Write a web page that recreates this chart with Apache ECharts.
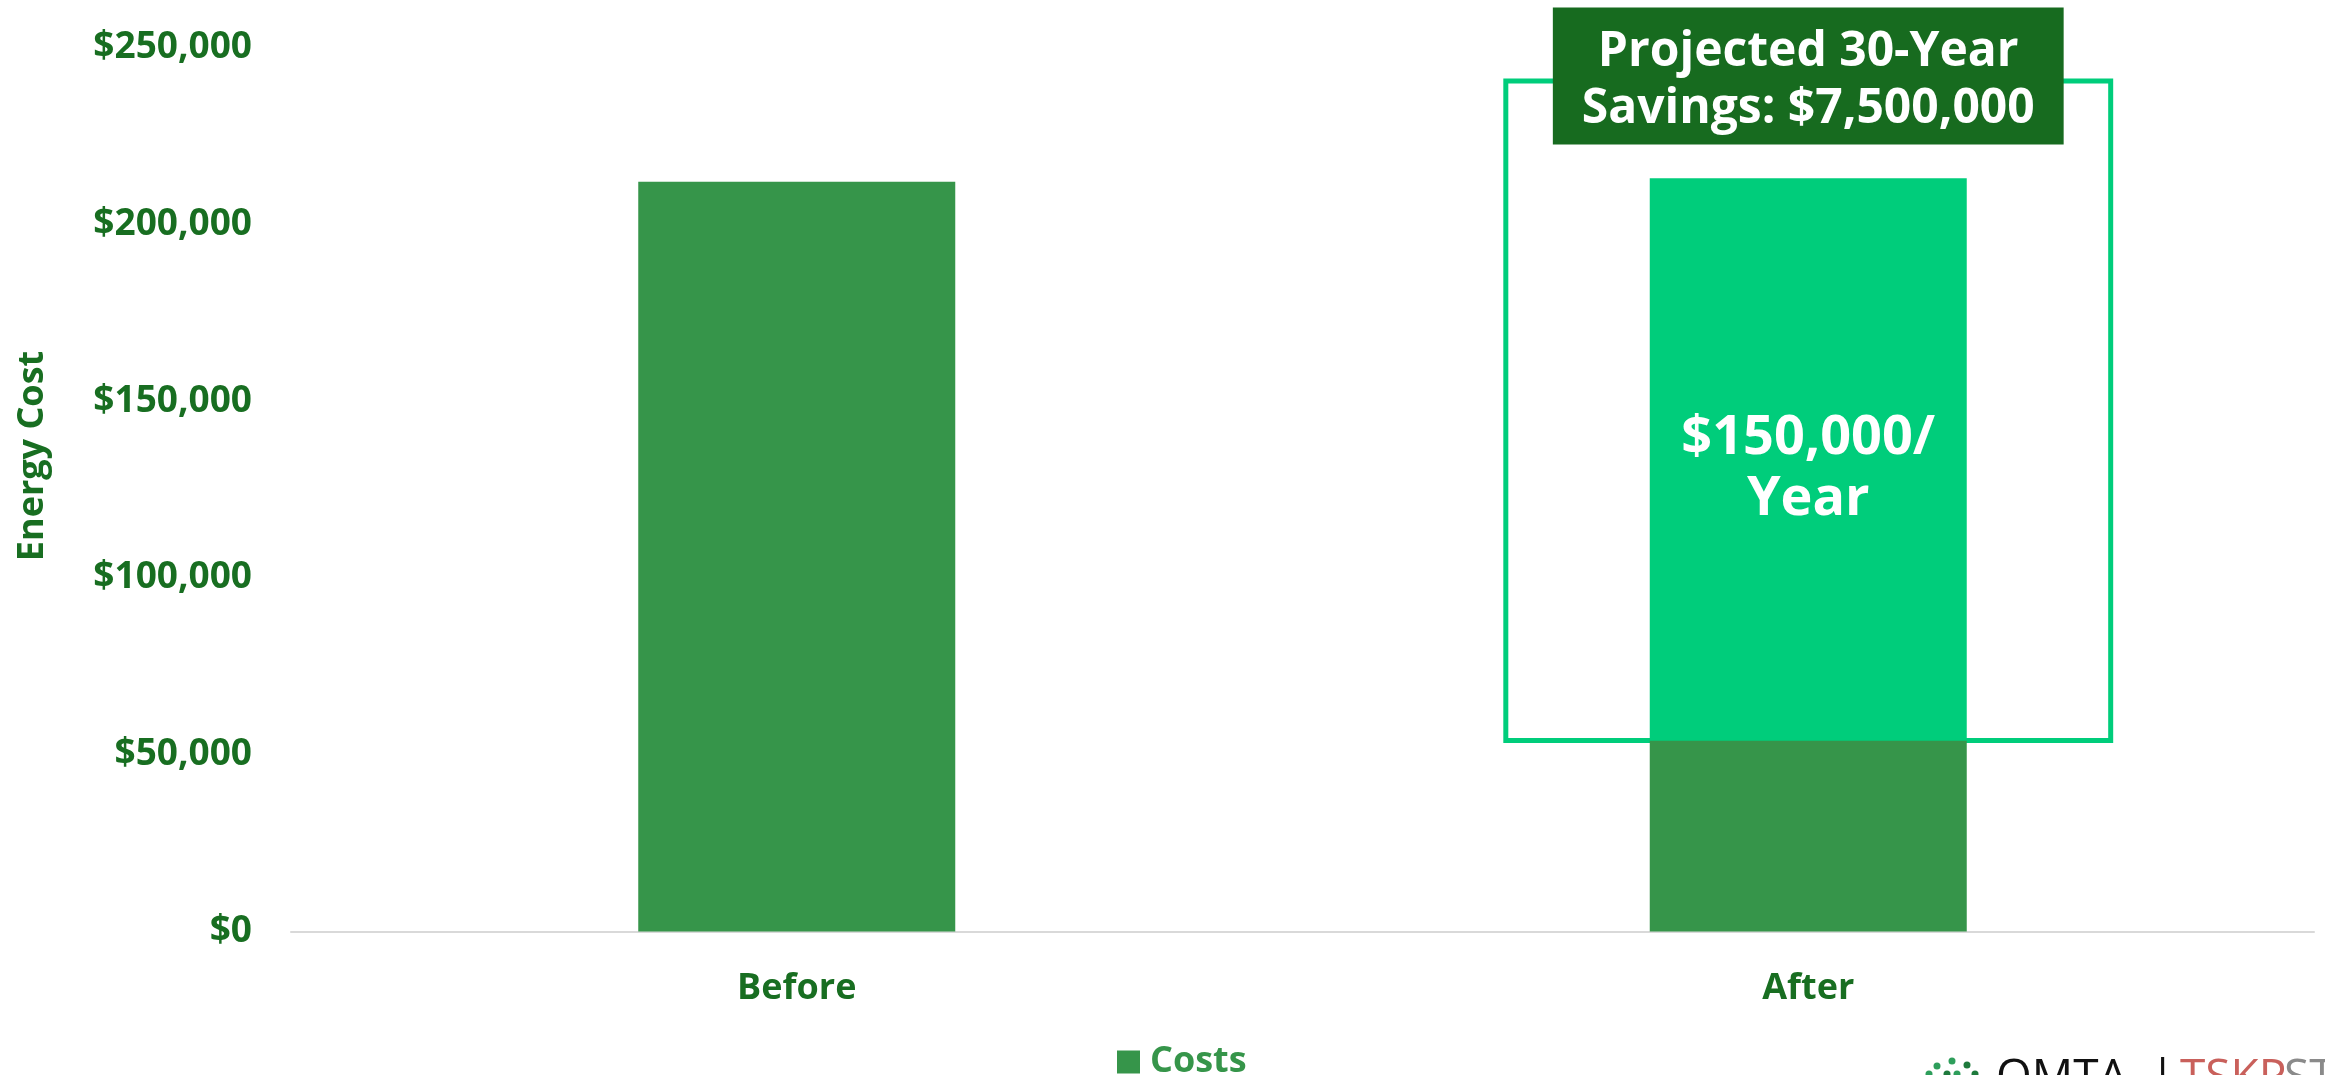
<!DOCTYPE html>
<html>
<head>
<meta charset="utf-8">
<script src="https://cdn.jsdelivr.net/npm/echarts@6/dist/echarts.min.js"></script>
<style>
html,body{margin:0;padding:0;background:#fff;}
#chart{width:2325px;height:1075px;}
</style>
</head>
<body>
<div id="chart"></div>
<script>
// ---- data ----
const categories = ['Before', 'After'];
const costs = [212000, 54000];          // dark green "Costs" bars
const savings = [null, 159000];         // bright green savings segment on "After"
const yMin = 0;
const yMax = 250000;
const yInterval = 50000;
const yAxisTitle = 'Energy Cost';
const savingsLabel = ['$150,000/', 'Year'];
const calloutLines = ['Projected 30-Year', 'Savings: $7,500,000'];
const outlineTopValue = 240500;         // top edge of the savings outline (value units)

// ---- styles ----
const FONT = "'Open Sans', 'Noto Sans', sans-serif";
const LABEL_GREEN = '#186E21';
const BAR_GREEN = '#36954A';
const BRIGHT = '#00CD7B';
const BOX_GREEN = '#176B1F';

const chart = echarts.init(document.getElementById('chart'), null, {renderer: 'canvas'});

const option = {
  backgroundColor: '#ffffff',
  animation: false,
  grid: {left: 291, right: 11, top: 47.5, bottom: 143.5, containLabel: false, outerBoundsMode: 'none'},
  legend: {
    data: ['Costs'],
    left: 1117,
    top: 1044,
    padding: 0,
    icon: 'rect',
    itemWidth: 23,
    itemHeight: 23,
    textStyle: {color: BAR_GREEN, fontFamily: FONT, fontWeight: 'bold', fontSize: 36, padding: [0, 0, 0, 5]}
  },
  xAxis: {
    type: 'category',
    data: categories,
    axisLine: {show: true, lineStyle: {color: '#D9D9D9', width: 2}},
    axisTick: {show: false},
    axisLabel: {color: LABEL_GREEN, fontFamily: FONT, fontWeight: 'bold', fontSize: 36, margin: 39},
    splitLine: {show: false}
  },
  yAxis: {
    type: 'value',
    min: yMin,
    max: yMax,
    interval: yInterval,
    name: yAxisTitle,
    nameLocation: 'middle',
    nameGap: 240,
    nameTextStyle: {color: LABEL_GREEN, fontFamily: FONT, fontWeight: 'bold', fontSize: 36, padding: [0, 0, 0, 67]},
    axisLine: {show: false},
    axisTick: {show: false},
    splitLine: {show: false},
    axisLabel: {
      color: LABEL_GREEN, fontFamily: FONT, fontWeight: 'bold', fontSize: 37, margin: 39,
      formatter: v => '$' + v.toLocaleString('en-US')
    }
  },
  series: [
    {
      name: 'Costs',
      type: 'bar',
      stack: 'total',
      data: costs,
      barWidth: 317,
      itemStyle: {color: BAR_GREEN},
      z: 3
    },
    {
      name: 'Savings',
      type: 'bar',
      stack: 'total',
      data: savings,
      barWidth: 317,
      itemStyle: {color: BRIGHT},
      z: 3,
      label: {
        show: true,
        position: 'inside',
        offset: [0, 10],
        formatter: savingsLabel.join('\n'),
        color: '#ffffff',
        fontFamily: FONT,
        fontWeight: 'bold',
        fontSize: 54,
        lineHeight: 61
      }
    }
  ]
};

chart.setOption(option);

function drawAnnotations() {
  const xAxis = chart.getModel().getComponent('xAxis', 0).axis;
  const band = xAxis.getBandWidth();
  const cx = chart.convertToPixel({xAxisIndex: 0}, categories[1]);
  const yBottom = chart.convertToPixel({yAxisIndex: 0}, costs[1]);
  const yTop = chart.convertToPixel({yAxisIndex: 0}, outlineTopValue);
  const outlineW = band * 0.598;
  const boxW = band * 0.505;
  const boxH = 137;
  const boxCy = yTop - 5;

  const graphics = [
    {
      type: 'rect',
      z: 1,
      shape: {x: cx - outlineW / 2, y: yTop, width: outlineW, height: yBottom - yTop},
      style: {fill: 'none', stroke: BRIGHT, lineWidth: 5}
    },
    {
      type: 'rect',
      z: 10,
      shape: {x: cx - boxW / 2, y: boxCy - boxH / 2, width: boxW, height: boxH},
      style: {fill: BOX_GREEN}
    },
    {
      type: 'text',
      z: 11,
      style: {
        x: cx,
        y: boxCy + 5,
        text: calloutLines.join('\n'),
        fill: '#ffffff',
        font: 'bold 48px ' + FONT,
        lineHeight: 57,
        align: 'center',
        verticalAlign: 'middle'
      }
    },
    // partial logo at bottom-right edge
    {type: 'text', z: 5, style: {x: 1996, y: 1056, text: 'OMTA', font: '46px ' + FONT, fill: '#111111', verticalAlign: 'top'}},
    {type: 'text', z: 5, style: {x: 2150, y: 1056, text: '|', font: '46px ' + FONT, fill: '#111111', verticalAlign: 'top'}},
    {type: 'text', z: 5, style: {x: 2180, y: 1056, text: 'TSKP', font: '46px ' + FONT, fill: '#C9605B', verticalAlign: 'top'}},
    {type: 'text', z: 5, style: {x: 2284, y: 1056, text: 'STUDIO', font: '46px ' + FONT, fill: '#8A8A8A', verticalAlign: 'top'}}
  ];
  const dots = [[1952, 1061, '#2E9E5B'], [1967, 1065, '#1E7A3C'], [1937, 1066, '#2E9E5B'], [1947, 1074, '#1E7A3C'],
                [1957, 1074, '#2E9E5B'], [1929, 1074, '#2E9E5B'], [1975, 1074, '#1E7A3C']];
  dots.forEach(d => graphics.push({type: 'circle', z: 5, shape: {cx: d[0], cy: d[1], r: 3.5}, style: {fill: d[2]}}));
  chart.setOption({graphic: graphics});
}
drawAnnotations();
</script>
</body>
</html>
